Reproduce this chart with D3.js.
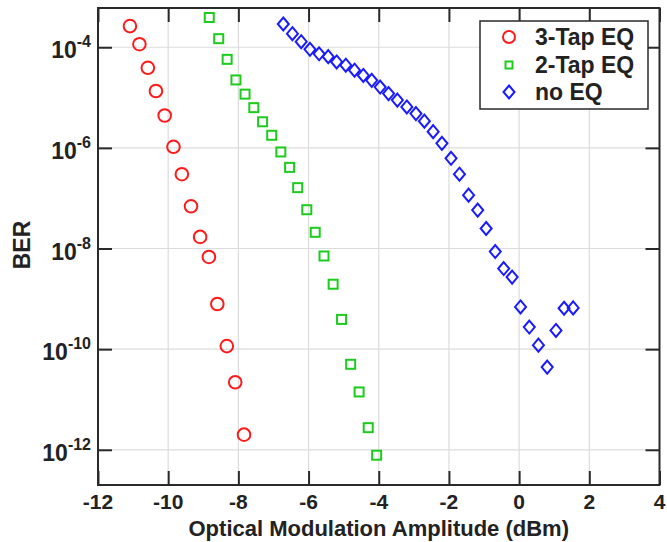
<!DOCTYPE html>
<html lang="en">
<head>
<meta charset="utf-8">
<title>BER vs OMA</title>
<script src="https://cdnjs.cloudflare.com/ajax/libs/d3/7.8.5/d3.min.js"></script>
<style>
  body { margin: 0; background: #fff; }
  text { font-family: "Liberation Sans", Arial, sans-serif; font-weight: bold; fill: #222; }
</style>
</head>
<body>
<script>
// 3-Tap EQ (red circles)
var omaTap3 = [-11.09, -10.82, -10.58, -10.35, -10.10, -9.85, -9.61, -9.35, -9.09, -8.84, -8.60, -8.33, -8.09, -7.84];
var berTap3 = [2.63e-4, 1.15e-4, 3.9e-5, 1.35e-5, 4.4e-6, 1.05e-6, 3.0e-7, 6.9e-8, 1.7e-8, 6.8e-9, 7.9e-10, 1.15e-10, 2.2e-11, 2.0e-12];

// 2-Tap EQ (green squares)
var omaTap2 = [-8.83, -8.56, -8.32, -8.07, -7.81, -7.56, -7.31, -7.05, -6.79, -6.54, -6.31, -6.05, -5.81, -5.56, -5.30, -5.06, -4.80, -4.56, -4.30, -4.06];
var berTap2 = [3.9e-4, 1.48e-4, 5.75e-5, 2.24e-5, 1.17e-5, 6.3e-6, 3.3e-6, 1.78e-6, 8.3e-7, 4.1e-7, 1.62e-7, 5.9e-8, 2.1e-8, 7.1e-9, 1.95e-9, 3.9e-10, 5.0e-11, 1.41e-11, 2.75e-12, 7.8e-13];

// no EQ (blue diamonds)
var omaNoEq = [-6.72, -6.46, -6.21, -5.96, -5.70, -5.44, -5.20, -4.94, -4.69, -4.44, -4.20, -3.96, -3.72, -3.47, -3.20, -2.94, -2.70, -2.45,
               -2.20, -1.94, -1.70, -1.44, -1.18, -0.94, -0.68, -0.44, -0.20, 0.04, 0.29, 0.55, 0.80, 1.05, 1.28, 1.54];
var berNoEq = [2.9e-4, 1.86e-4, 1.29e-4, 9.1e-5, 7.4e-5, 6.5e-5, 5.1e-5, 4.4e-5, 3.5e-5, 2.75e-5, 2.2e-5, 1.62e-5, 1.2e-5, 8.9e-6, 6.5e-6, 4.8e-6, 3.4e-6, 2.1e-6,
               1.23e-6, 6.2e-7, 3.0e-7, 1.15e-7, 5.8e-8, 2.5e-8, 8.7e-9, 4.0e-9, 2.7e-9, 6.9e-10, 2.75e-10, 1.2e-10, 4.4e-11, 2.35e-10, 6.5e-10, 6.6e-10];

var xTicks = [-12, -10, -8, -6, -4, -2, 0, 2, 4];
var yTickExps = [-12, -10, -8, -6, -4];
var seriesNames = ["3-Tap EQ", "2-Tap EQ", "no EQ"];

var width = 667, height = 542;
var pLeft = 98, pRight = 659.5, pTop = 8, pBottom = 485;

var x = d3.scaleLinear().domain([-12, 4]).range([pLeft, pRight]);
var y = d3.scaleLog().domain([Math.pow(10, -12.7), Math.pow(10, -3.22)]).range([pBottom, pTop]);

var svg = d3.select("body").append("svg")
    .attr("width", width)
    .attr("height", height);

// grid
svg.append("g").selectAll("line")
    .data(xTicks)
    .enter().append("line")
    .attr("x1", function(d) { return x(d); })
    .attr("x2", function(d) { return x(d); })
    .attr("y1", pTop).attr("y2", pBottom)
    .attr("stroke", "#dcdcdc").attr("stroke-width", 1.2);

svg.append("g").selectAll("line")
    .data(yTickExps)
    .enter().append("line")
    .attr("y1", function(d) { return y(Math.pow(10, d)); })
    .attr("y2", function(d) { return y(Math.pow(10, d)); })
    .attr("x1", pLeft).attr("x2", pRight)
    .attr("stroke", "#dcdcdc").attr("stroke-width", 1.2);

// axes with inward ticks
var tickLen = 14;
var axisColor = "#2a2a2a";

function styleAxis(g) {
    g.select(".domain").remove();
    g.selectAll(".tick line").attr("stroke", axisColor).attr("stroke-width", 2);
    g.selectAll(".tick text").remove();
}

svg.append("g").attr("transform", "translate(0," + pBottom + ")")
    .call(d3.axisBottom(x).tickValues(xTicks).tickSize(-tickLen))
    .call(styleAxis);
svg.append("g").attr("transform", "translate(0," + pTop + ")")
    .call(d3.axisTop(x).tickValues(xTicks).tickSize(-tickLen))
    .call(styleAxis);
var yTickVals = yTickExps.map(function(e) { return Math.pow(10, e); });
svg.append("g").attr("transform", "translate(" + pLeft + ",0)")
    .call(d3.axisLeft(y).tickValues(yTickVals).tickSize(-tickLen))
    .call(styleAxis);
svg.append("g").attr("transform", "translate(" + pRight + ",0)")
    .call(d3.axisRight(y).tickValues(yTickVals).tickSize(-tickLen))
    .call(styleAxis);

// frame
svg.append("rect")
    .attr("x", pLeft).attr("y", pTop)
    .attr("width", pRight - pLeft).attr("height", pBottom - pTop)
    .attr("fill", "none").attr("stroke", axisColor).attr("stroke-width", 2);

// x tick labels
svg.append("g").selectAll("text")
    .data(xTicks)
    .enter().append("text")
    .attr("x", function(d) { return x(d); })
    .attr("y", 509)
    .attr("text-anchor", "middle")
    .style("font-size", "21px")
    .text(function(d) { return d; });

// y tick labels 10^n
var yLab = svg.append("g").selectAll("text")
    .data(yTickExps)
    .enter().append("text")
    .attr("x", 91)
    .attr("y", function(d) { return y(Math.pow(10, d)) + 11; })
    .attr("text-anchor", "end")
    .style("font-size", "23px");
yLab.append("tspan").text("10");
yLab.append("tspan")
    .attr("dy", -11)
    .style("font-size", "16px")
    .text(function(d) { return String(d); });

// axis titles
svg.append("text")
    .attr("x", (pLeft + pRight) / 2)
    .attr("y", 536)
    .attr("text-anchor", "middle")
    .style("font-size", "22px")
    .text("Optical Modulation Amplitude (dBm)");

svg.append("text")
    .attr("transform", "translate(30,245) rotate(-90)")
    .attr("text-anchor", "middle")
    .style("font-size", "23px")
    .text("BER");

// markers
var plot = svg.append("g");

plot.selectAll(".tap3")
    .data(d3.zip(omaTap3, berTap3))
    .enter().append("circle")
    .attr("cx", function(d) { return x(d[0]); })
    .attr("cy", function(d) { return y(d[1]); })
    .attr("r", 6.3)
    .attr("fill", "none").attr("stroke", "#ff1a1a").attr("stroke-width", 2);

plot.selectAll(".tap2")
    .data(d3.zip(omaTap2, berTap2))
    .enter().append("rect")
    .attr("x", function(d) { return x(d[0]) - 4.5; })
    .attr("y", function(d) { return y(d[1]) - 4.5; })
    .attr("width", 9).attr("height", 9)
    .attr("fill", "none").attr("stroke", "#1ccc1c").attr("stroke-width", 2);

var diamond = "M0,-6.5L5.5,0L0,6.5L-5.5,0Z";
plot.selectAll(".noeq")
    .data(d3.zip(omaNoEq, berNoEq))
    .enter().append("path")
    .attr("d", diamond)
    .attr("transform", function(d) { return "translate(" + x(d[0]) + "," + y(d[1]) + ")"; })
    .attr("fill", "none").attr("stroke", "#1a1aff").attr("stroke-width", 2);

// legend
var legend = svg.append("g");
legend.append("rect")
    .attr("x", 480).attr("y", 21)
    .attr("width", 168).attr("height", 88)
    .attr("fill", "#fff").attr("stroke", axisColor).attr("stroke-width", 1.5);

var legY = [37, 65, 92];
legend.append("circle")
    .attr("cx", 509).attr("cy", legY[0]).attr("r", 6)
    .attr("fill", "none").attr("stroke", "#ff1a1a").attr("stroke-width", 2);
legend.append("rect")
    .attr("x", 505.5).attr("y", legY[1] - 3.5).attr("width", 7).attr("height", 7)
    .attr("fill", "none").attr("stroke", "#1ccc1c").attr("stroke-width", 2);
legend.append("path")
    .attr("d", diamond)
    .attr("transform", "translate(509," + legY[2] + ")")
    .attr("fill", "none").attr("stroke", "#1a1aff").attr("stroke-width", 2);

legend.selectAll(".lt")
    .data(seriesNames)
    .enter().append("text")
    .attr("x", 535)
    .attr("y", function(d, i) { return legY[i] + 8; })
    .style("font-size", "23px")
    .text(function(d) { return d; });
</script>
</body>
</html>
